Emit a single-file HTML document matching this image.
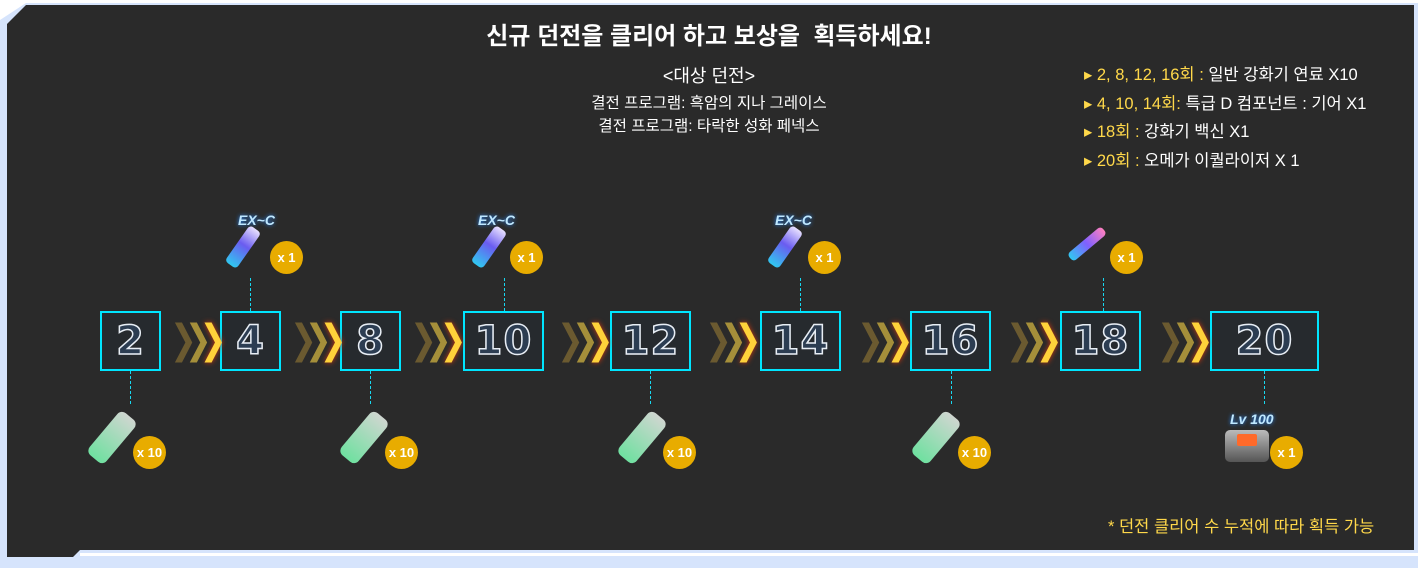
<!DOCTYPE html>
<html><head><meta charset="utf-8"><style>
body{margin:0;width:1418px;height:568px;background:#fff;position:relative;overflow:hidden;font-family:"Liberation Sans","Noto Sans CJK KR",sans-serif}
.frame{position:absolute;left:0;top:0;width:1418px;height:568px;}
.t{position:absolute;color:#fff;white-space:nowrap}
.box{position:absolute;top:311px;height:60px;border:2px solid #00e5ff;box-sizing:border-box;background:#262a2e;display:flex;align-items:center;justify-content:center;font-family:"DejaVu Sans",sans-serif;font-weight:bold;font-size:40px;color:#2c3d52;-webkit-text-stroke:1.5px #e8eef5;letter-spacing:1px}
.arr{position:absolute;top:318px;font-family:"DejaVu Sans",sans-serif;font-weight:bold;font-size:40px;line-height:44px;letter-spacing:-15px;transform:scaleX(0.8);transform-origin:left}
.arr span:nth-child(1){color:#6b5a30}.arr span:nth-child(2){color:#a58f3a}.arr span:nth-child(3){color:#ffd23a;text-shadow:0 0 6px #d23a10}
.dl{position:absolute;width:0;border-left:1.5px dashed #18d8f0}
.badge{position:absolute;width:33px;height:33px;border-radius:50%;background:#e8ac00;color:#fff;font-size:13px;font-weight:bold;display:flex;align-items:center;justify-content:center}
.bottle{position:absolute;width:22px;height:55px;border-radius:6px;background:linear-gradient(#cfd6d0,#6fe0a0);transform:rotate(40deg)}
.plug{position:absolute;width:14px;height:44px;border-radius:4px;background:linear-gradient(#e8e0ff,#6a5cf0 45%,#30c8f0);transform:rotate(35deg)}
.ex{position:absolute;color:#bfe8ff;font-weight:bold;font-style:italic;font-size:14px;text-shadow:0 0 4px #2a8cff}
</style></head><body>
<svg class="frame" width="1418" height="568">
<rect x="0" y="0" width="1418" height="568" fill="#fff"/>
<path d="M26 3 L1418 3 L1418 568 L0 568 L0 20 Z" fill="#d6e4fc"/>
<path d="M26 5 L1414 5 L1414 550 L80 550 L73 557 L7 557 L7 24 Z" fill="#2a2a2a"/>
<rect x="80" y="553" width="1338" height="3" fill="#fff"/>
<rect x="124" y="560" width="1294" height="8" fill="#d6e4fc"/>
</svg>
<div class="t" style="left:0;width:1418px;text-align:center;top:16px;font-size:24px;font-weight:bold">신규 던전을 클리어 하고 보상을&nbsp; 획득하세요!</div>
<div class="t" style="left:0;width:1418px;text-align:center;top:62px;font-size:18px">&lt;대상 던전&gt;</div>
<div class="t" style="left:0;width:1418px;text-align:center;top:92px;font-size:15.5px;line-height:23px">결전 프로그램: 흑암의 지나 그레이스<br>결전 프로그램: 타락한 성화 페넥스</div>
<div class="t" style="left:1084px;top:61px;font-size:16.5px;line-height:28.5px">
<span style="color:#ffd84a">▸ 2, 8, 12, 16회 :</span> 일반 강화기 연료 X10<br>
<span style="color:#ffd84a">▸ 4, 10, 14회:</span> 특급 D 컴포넌트 : 기어 X1<br>
<span style="color:#ffd84a">▸ 18회 :</span> 강화기 백신 X1<br>
<span style="color:#ffd84a">▸ 20회 :</span> 오메가 이퀄라이저 X 1</div>
<div class="t" style="left:1108px;top:513px;font-size:16.5px;color:#ffd84a">* 던전 클리어 수 누적에 따라 획득 가능</div>

<div class="box" style="left:100px;width:61px">2</div>
<div class="box" style="left:220px;width:61px">4</div>
<div class="box" style="left:340px;width:61px">8</div>
<div class="box" style="left:463px;width:81px">10</div>
<div class="box" style="left:610px;width:81px">12</div>
<div class="box" style="left:760px;width:81px">14</div>
<div class="box" style="left:910px;width:81px">16</div>
<div class="box" style="left:1060px;width:81px">18</div>
<div class="box" style="left:1210px;width:109px">20</div>

<div class="arr" style="left:170px"><span>❯</span><span>❯</span><span>❯</span></div>
<div class="arr" style="left:290px"><span>❯</span><span>❯</span><span>❯</span></div>
<div class="arr" style="left:410px"><span>❯</span><span>❯</span><span>❯</span></div>
<div class="arr" style="left:557px"><span>❯</span><span>❯</span><span>❯</span></div>
<div class="arr" style="left:705px"><span>❯</span><span>❯</span><span>❯</span></div>
<div class="arr" style="left:857px"><span>❯</span><span>❯</span><span>❯</span></div>
<div class="arr" style="left:1006px"><span>❯</span><span>❯</span><span>❯</span></div>
<div class="arr" style="left:1157px"><span>❯</span><span>❯</span><span>❯</span></div>

<div class="dl" style="left:250px;top:278px;height:33px"></div>
<div class="dl" style="left:504px;top:278px;height:33px"></div>
<div class="dl" style="left:800px;top:278px;height:33px"></div>
<div class="dl" style="left:1103px;top:278px;height:33px"></div>
<div class="dl" style="left:130px;top:371px;height:33px"></div>
<div class="dl" style="left:370px;top:371px;height:33px"></div>
<div class="dl" style="left:650px;top:371px;height:33px"></div>
<div class="dl" style="left:951px;top:371px;height:33px"></div>
<div class="dl" style="left:1264px;top:371px;height:33px"></div>

<div class="ex" style="left:238px;top:212px">EX~C</div><div class="plug" style="left:236px;top:225px"></div><div class="badge" style="left:270px;top:241px">x 1</div>
<div class="ex" style="left:478px;top:212px">EX~C</div><div class="plug" style="left:482px;top:225px"></div><div class="badge" style="left:510px;top:241px">x 1</div>
<div class="ex" style="left:775px;top:212px">EX~C</div><div class="plug" style="left:778px;top:225px"></div><div class="badge" style="left:808px;top:241px">x 1</div>
<div class="plug" style="left:1082px;top:222px;background:linear-gradient(#ff80c0,#8060ff,#30c8f0);transform:rotate(50deg);width:10px"></div><div class="badge" style="left:1110px;top:241px">x 1</div>

<div class="bottle" style="left:101px;top:410px"></div><div class="badge" style="left:133px;top:436px">x 10</div>
<div class="bottle" style="left:353px;top:410px"></div><div class="badge" style="left:385px;top:436px">x 10</div>
<div class="bottle" style="left:631px;top:410px"></div><div class="badge" style="left:663px;top:436px">x 10</div>
<div class="bottle" style="left:925px;top:410px"></div><div class="badge" style="left:958px;top:436px">x 10</div>
<div class="ex" style="left:1230px;top:411px">Lv 100</div>
<div style="position:absolute;left:1225px;top:430px;width:44px;height:32px;border-radius:5px;background:linear-gradient(#bbb,#555)"><div style="margin:4px 12px;height:12px;background:#ff6a2a;border-radius:2px"></div></div>
<div class="badge" style="left:1270px;top:436px">x 1</div>
</body></html>
